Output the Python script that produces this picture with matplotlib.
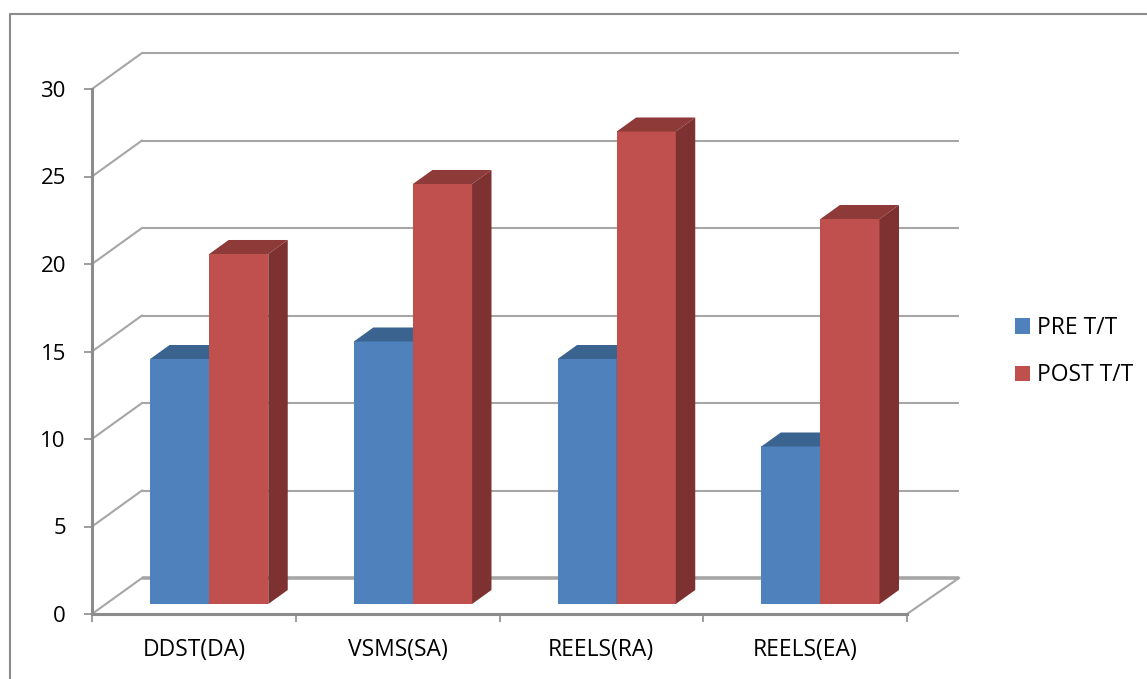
import matplotlib
matplotlib.use("Agg")
import matplotlib.pyplot as plt
from matplotlib.lines import Line2D
from matplotlib.patches import Polygon

categories = ["DDST(DA)", "VSMS(SA)", "REELS(RA)", "REELS(EA)"]
pre_values = [14, 15, 14, 9]
post_values = [20, 24, 27, 22]
y_ticks = [0, 5, 10, 15, 20, 25, 30]

W, H = 1147, 679
LEFT, RIGHT, Y0, Y30 = 92, 907, 614, 89

# depth of the fake 3D box, in data units
DEPTH_X = 50 / ((RIGHT - LEFT) / 4)
DEPTH_Y = 36 / ((Y0 - Y30) / 30)
BAR_FRONT = 0.278
BAR_BACK = 0.667
BAR_W = 0.29
BAR_GAP = 0.217

GRID = "#a6a6a6"
AXIS = "#8c8c8c"
BLUE = ("#4f81bd", "#3a6390", "#335a86")
RED = ("#c0504d", "#8e3a38", "#7d3130")


def draw_bar(ax, x, value, colors, label):
    # front face sits a little into the floor, top and side run back from it
    fx = x + BAR_FRONT * DEPTH_X
    fy = BAR_FRONT * DEPTH_Y
    ox = (BAR_BACK - BAR_FRONT) * DEPTH_X
    oy = (BAR_BACK - BAR_FRONT) * DEPTH_Y
    bar = ax.bar(fx, value, BAR_W, bottom=fy, align="edge", color=colors[0],
                 linewidth=0, zorder=3, label=label, clip_on=False)
    top = fy + value
    ax.add_patch(Polygon([(fx, top), (fx + BAR_W, top),
                          (fx + BAR_W + ox, top + oy), (fx + ox, top + oy)],
                         closed=True, fc=colors[1], ec="none", zorder=3, clip_on=False))
    ax.add_patch(Polygon([(fx + BAR_W, fy), (fx + BAR_W + ox, fy + oy),
                          (fx + BAR_W + ox, top + oy), (fx + BAR_W, top)],
                         closed=True, fc=colors[2], ec="none", zorder=3, clip_on=False))
    return bar


plt.rcParams["font.family"] = ["Open Sans", "DejaVu Sans"]
fig = plt.figure(figsize=(W / 100, H / 100), dpi=100)
ax = fig.add_axes([LEFT / W, (H - Y0) / H, (RIGHT - LEFT) / W, (Y0 - Y30) / H])
ax.set_xlim(0, len(categories))
ax.set_ylim(0, 30)

# outer frame, open at the right and bottom
fig.add_artist(Line2D([10 / W, 10 / W, 1], [0, 1 - 14 / H, 1 - 14 / H],
                      color="#8c8c8c", lw=1.5, transform=fig.transFigure))

# back wall gridlines and their slanted returns on the side wall
n = len(categories)
for v in y_ticks:
    lw = 2.6 if v == 0 else 1.5
    ax.plot([DEPTH_X, n + DEPTH_X + 0.01], [v + DEPTH_Y, v + DEPTH_Y],
            color=GRID, lw=lw, zorder=1, clip_on=False, solid_capstyle="butt")
    ax.plot([0, DEPTH_X], [v, v + DEPTH_Y], color=GRID, lw=1.5, zorder=1, clip_on=False)

# right edge of the floor
ax.plot([n, n + DEPTH_X + 0.01], [0, DEPTH_Y], color=GRID, lw=1.5, zorder=1, clip_on=False)

for i in range(n):
    x = i + BAR_GAP
    draw_bar(ax, x, pre_values[i], BLUE, "PRE T/T" if i == 0 else None)
    draw_bar(ax, x + BAR_W, post_values[i], RED, "POST T/T" if i == 0 else None)

for side in ["top", "right"]:
    ax.spines[side].set_visible(False)
for side in ["left", "bottom"]:
    ax.spines[side].set_color(AXIS)
    ax.spines[side].set_linewidth(2.2)
    ax.spines[side].set_zorder(2)

ax.set_yticks(y_ticks)
ax.tick_params(axis="y", length=5.8, width=1.2, color=AXIS, labelsize=16, pad=13)
ax.set_xticks(range(n + 1))
ax.set_xticklabels([])
ax.tick_params(axis="x", which="major", length=5.8, width=1.2, color=AXIS)
ax.set_xticks([i + 0.5 for i in range(n)], minor=True)
ax.set_xticklabels(categories, minor=True)
ax.tick_params(axis="x", which="minor", length=0, labelsize=16.5, pad=17)

ax.legend(loc="upper left", bbox_to_anchor=(1015 / W, 1 - 316 / H),
          bbox_transform=fig.transFigure, frameon=False, fontsize=16.5,
          handlelength=0.65, handleheight=0.65, handletextpad=0.32,
          labelspacing=1.02, borderpad=0, borderaxespad=0)

fig.savefig("out.png", dpi=100)
